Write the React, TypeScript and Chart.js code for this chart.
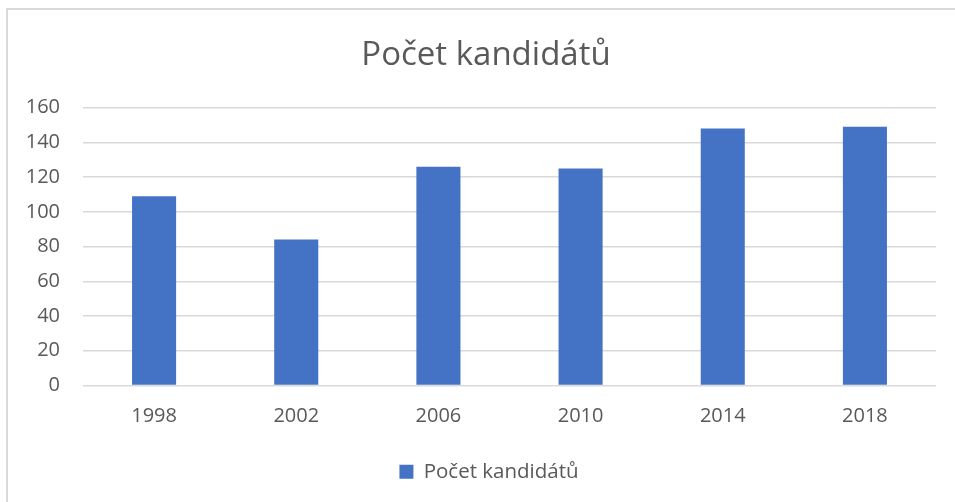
import React, { useEffect, useRef } from "react";
import { Chart, registerables } from "chart.js";

Chart.register(...registerables);

const categories = ["1998", "2002", "2006", "2010", "2014", "2018"];
const values = [109, 84, 126, 125, 148, 149];
const seriesName = "Počet kandidátů";
const chartTitle = "Počet kandidátů";

const frame = {
  id: "frame",
  beforeDraw(chart: any) {
    const ctx = chart.ctx;
    ctx.save();
    ctx.fillStyle = "#ffffff";
    ctx.fillRect(0, 0, chart.width, chart.height);
    ctx.strokeStyle = "#d9d9d9";
    ctx.lineWidth = 2;
    ctx.strokeRect(7, 9, chart.width + 20, chart.height + 20);
    ctx.restore();
  },
};

const shiftBoxes = {
  id: "shiftBoxes",
  afterLayout(chart: any) {
    const lg = chart.legend;
    if (lg) {
      lg.left += 21;
      lg.right += 21;
    }
    const tt = chart.titleBlock;
    if (tt) {
      tt.left += 18;
      tt.right += 18;
    }
  },
};

export default function App() {
  const ref = useRef<HTMLCanvasElement | null>(null);
  useEffect(() => {
    if (!ref.current) return;
    const font = "'Open Sans', sans-serif";
    const chart = new Chart(ref.current, {
      type: "bar",
      data: {
        labels: categories,
        datasets: [
          {
            label: seriesName,
            data: values,
            backgroundColor: "#4472C4",
            barPercentage: 0.31,
            categoryPercentage: 1,
          },
        ],
      },
      plugins: [frame, shiftBoxes],
      options: {
        responsive: false,
        animation: false,
        layout: { padding: { left: 0, right: 19, top: 0, bottom: 10 } },
        plugins: {
          title: {
            display: true,
            text: chartTitle,
            color: "#595959",
            font: { family: font, size: 33, weight: "normal" },
            padding: { top: 36, bottom: 32 },
          },
          legend: {
            display: true,
            position: "bottom",
            labels: {
              color: "#595959",
              font: { family: font, size: 20.5 },
              boxWidth: 14,
              boxHeight: 14,
              padding: 30,
            },
          },
          tooltip: { enabled: false },
        },
        scales: {
          x: {
            afterFit: (s: any) => {
              s.height = 46;
            },
            grid: { display: false, drawTicks: false },
            border: { display: false },
            ticks: {
              color: "#595959",
              font: { family: font, size: 20 },
              padding: 19,
            },
          },
          y: {
            min: 0,
            max: 160,
            afterFit: (s: any) => {
              s.width = 83;
            },
            grid: { color: "#d9d9d9", lineWidth: 1.5, drawTicks: false },
            border: { display: false },
            ticks: {
              stepSize: 20,
              color: "#595959",
              font: { family: font, size: 20 },
              padding: 23,
            },
          },
        },
      },
    });
    return () => chart.destroy();
  }, []);
  return (
    <div style={{ position: "absolute", left: 0, top: 0, width: 955, height: 502 }}>
      <canvas ref={ref} width={955} height={502} style={{ display: "block", width: 955, height: 502 }} />
    </div>
  );
}
